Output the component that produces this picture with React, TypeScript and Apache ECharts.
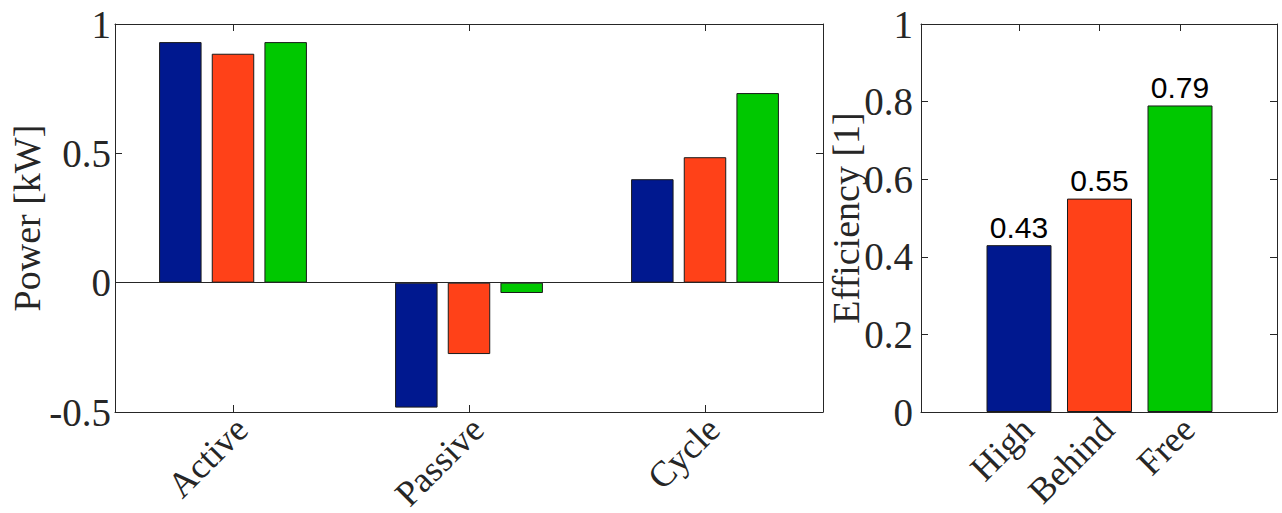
import React, { useEffect, useRef } from "react";
import * as echarts from "echarts";

const categories = ["Active", "Passive", "Cycle"];
const seriesNames = ["High", "Behind", "Free"];
const highPower = [0.93, -0.483, 0.4];
const behindPower = [0.885, -0.276, 0.485];
const freePower = [0.93, -0.04, 0.733];
const effCategories = ["High", "Behind", "Free"];
const efficiency = [0.43, 0.55, 0.79];
const colors = ["#00188F", "#FF4118", "#00C800"];

const SERIF = '"Liberation Serif", "Times New Roman", serif';
const SANS = '"Liberation Sans", Arial, sans-serif';
const AX = "#262626";
const FS_TICK = 39;
const FS_NAME = 38;
const FS_CAT = 36;

export default function App() {
  const ref = useRef<HTMLDivElement>(null);
  useEffect(() => {
    if (!ref.current) return;
    const chart = echarts.init(ref.current, undefined, { renderer: "svg" });
    const axisLine = { show: true, lineStyle: { color: AX, width: 1 } };
    const tickIn = { show: true, inside: true, length: 7, lineStyle: { color: AX } };
    const powerSets = [highPower, behindPower, freePower];
    const catLabel = {
      rotate: 45,
      margin: 20,
      padding: [0, -12, 0, 0],
      fontFamily: SERIF,
      fontSize: FS_CAT,
      color: AX,
    };

    const option: any = {
      animation: false,
      backgroundColor: "#fff",
      grid: [
        { left: 115, top: 24, width: 708, height: 388, containLabel: false, outerBoundsMode: "none" },
        { left: 921, top: 24, width: 356, height: 388, containLabel: false, outerBoundsMode: "none" },
        { left: 978.75, top: 24, width: 241.5, height: 388, containLabel: false, outerBoundsMode: "none" },
      ],
      xAxis: [
        {
          gridIndex: 0, type: "category", data: categories, position: "bottom",
          axisLine: { ...axisLine, onZero: false },
          axisTick: { ...tickIn, alignWithLabel: true },
          axisLabel: catLabel,
        },
        {
          gridIndex: 0, type: "category", data: categories, position: "top",
          axisLine: { ...axisLine, onZero: false },
          axisTick: { ...tickIn, alignWithLabel: true },
          axisLabel: { show: false },
        },
        {
          gridIndex: 1, type: "value", min: 0, max: 1, position: "bottom",
          axisLine: { ...axisLine, onZero: false }, axisTick: { show: false },
          axisLabel: { show: false }, splitLine: { show: false },
        },
        {
          gridIndex: 1, type: "value", min: 0, max: 1, position: "top",
          axisLine: { ...axisLine, onZero: false }, axisTick: { show: false },
          axisLabel: { show: false }, splitLine: { show: false },
        },
        {
          gridIndex: 2, type: "category", data: effCategories, position: "bottom",
          axisLine: { show: false, onZero: false },
          axisTick: { ...tickIn, alignWithLabel: true },
          axisLabel: catLabel,
        },
        {
          gridIndex: 2, type: "category", data: effCategories, position: "top",
          axisLine: { show: false, onZero: false },
          axisTick: { ...tickIn, alignWithLabel: true },
          axisLabel: { show: false },
        },
      ],
      yAxis: [
        {
          gridIndex: 0, type: "value", min: -0.5, max: 1, interval: 0.5, position: "left",
          name: "Power [kW]", nameLocation: "middle", nameGap: 69, nameMoveOverlap: false,
          nameTextStyle: { fontFamily: SERIF, fontSize: FS_NAME, color: AX },
          axisLine: { ...axisLine, onZero: false }, axisTick: tickIn,
          axisLabel: { margin: 4, fontFamily: SERIF, fontSize: FS_TICK, color: AX },
          splitLine: { show: false },
        },
        {
          gridIndex: 0, type: "value", min: -0.5, max: 1, interval: 0.5, position: "right",
          axisLine: { ...axisLine, onZero: false }, axisTick: tickIn,
          axisLabel: { show: false }, splitLine: { show: false },
        },
        {
          gridIndex: 1, type: "value", min: 0, max: 1, interval: 0.2, position: "left",
          name: "Efficiency [1]", nameLocation: "middle", nameGap: 56, nameMoveOverlap: false,
          nameTextStyle: { fontFamily: SERIF, fontSize: FS_NAME, color: AX },
          axisLine: { ...axisLine, onZero: false }, axisTick: tickIn,
          axisLabel: { margin: 8, fontFamily: SERIF, fontSize: FS_TICK, color: AX },
          splitLine: { show: false },
        },
        {
          gridIndex: 1, type: "value", min: 0, max: 1, interval: 0.2, position: "right",
          axisLine: { ...axisLine, onZero: false }, axisTick: tickIn,
          axisLabel: { show: false }, splitLine: { show: false },
        },
        {
          gridIndex: 2, type: "value", min: 0, max: 1, show: false, splitLine: { show: false },
        },
      ],
      series: [
        ...powerSets.map((vals, i) => ({
          type: "bar",
          name: seriesNames[i],
          xAxisIndex: 0,
          yAxisIndex: 0,
          data: vals,
          barWidth: "18%",
          barGap: "24%",
          itemStyle: { color: colors[i], borderColor: "#1a1a1a", borderWidth: 1 },
          markLine:
            i === 0
              ? {
                  silent: true,
                  symbol: ["none", "none"],
                  label: { show: false },
                  lineStyle: { color: AX, width: 1, type: "solid" },
                  data: [{ yAxis: 0 }],
                }
              : undefined,
        })),
        {
          type: "bar",
          xAxisIndex: 4,
          yAxisIndex: 4,
          barWidth: 65,
          data: efficiency.map((v, i) => ({
            value: v,
            itemStyle: { color: colors[i], borderColor: "#1a1a1a", borderWidth: 1 },
          })),
          label: {
            show: true,
            position: "top",
            distance: 3,
            formatter: (p: any) => Number(p.value).toFixed(2),
            fontFamily: SANS,
            fontSize: 30,
            color: "#000",
          },
        },
      ],
    };
    chart.setOption(option);
    return () => chart.dispose();
  }, []);
  return (
    <div
      ref={ref}
      style={{ position: "fixed", left: 0, top: 0, width: 1282, height: 513, background: "#fff" }}
    />
  );
}
